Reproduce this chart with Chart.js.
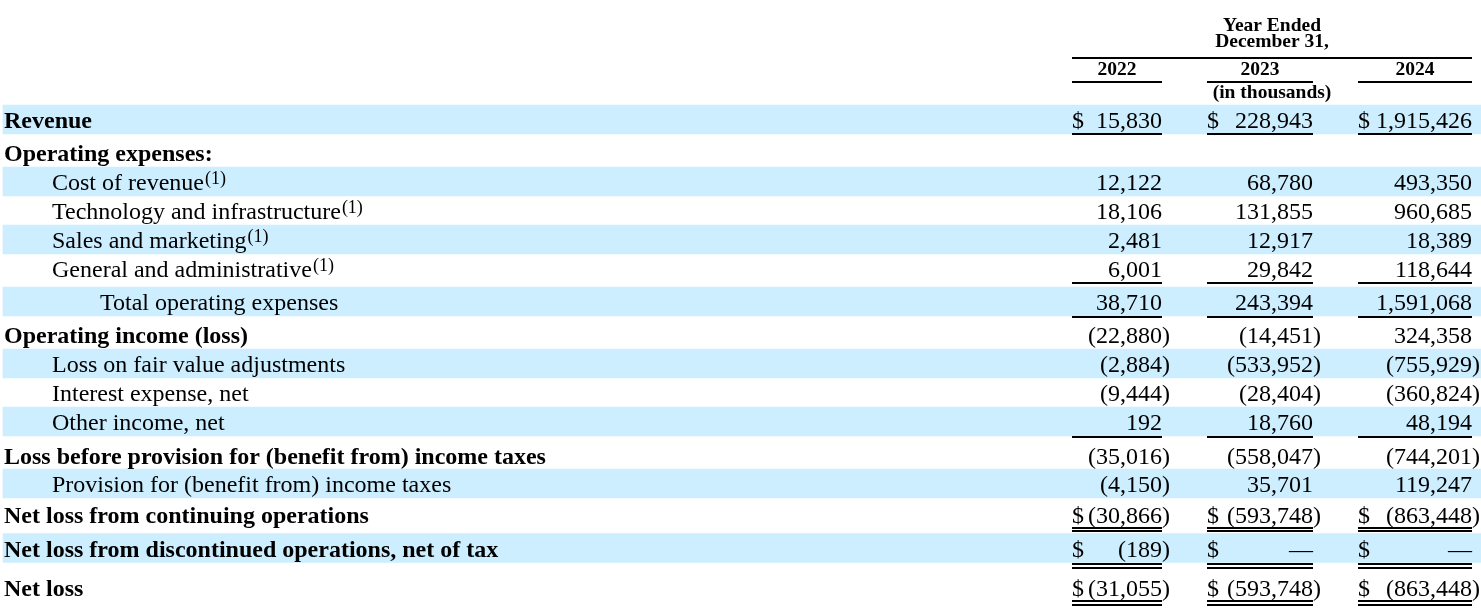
<!DOCTYPE html>
<html>
<head>
<meta charset="utf-8">
<script src="https://cdn.jsdelivr.net/npm/chart.js@4.4.1/dist/chart.umd.min.js"></script>
<style>
  html, body { margin: 0; padding: 0; background: #fff; }
  canvas { display: block; }
</style>
</head>
<body>
<canvas id="incomeTable" width="1481" height="609"></canvas>
<script>
// Table data (in thousands)
const years = ['2022', '2023', '2024'];
const rowLabels = [
    'Revenue',
    'Operating expenses:',
    'Cost of revenue',
    'Technology and infrastructure',
    'Sales and marketing',
    'General and administrative',
    'Total operating expenses',
    'Operating income (loss)',
    'Loss on fair value adjustments',
    'Interest expense, net',
    'Other income, net',
    'Loss before provision for (benefit from) income taxes',
    'Provision for (benefit from) income taxes',
    'Net loss from continuing operations',
    'Net loss from discontinued operations, net of tax',
    'Net loss'
];
const values2022 = [15830, null, 12122, 18106, 2481, 6001, 38710, -22880, -2884, -9444, 192, -35016, -4150, -30866, -189, -31055];
const values2023 = [228943, null, 68780, 131855, 12917, 29842, 243394, -14451, -533952, -28404, 18760, -558047, 35701, -593748, 0, -593748];
const values2024 = [1915426, null, 493350, 960685, 18389, 118644, 1591068, 324358, -755929, -360824, 48194, -744201, 119247, -863448, 0, -863448];
const footnoteRows = [2, 3, 4, 5];
const dollarRows = [0, 13, 14, 15];

// Layout (scale units = page pixels)
const rowCenters = [119.5, 152, 181.5, 210.5, 239.5, 268.5, 301.5, 334.5, 363.5, 392.5, 421.5, 455.5, 483.5, 514, 548, 587];
const rowIndent = [0, 0, 1, 1, 1, 1, 2, 0, 1, 1, 1, 0, 1, 0, 0, 0];
const shadedRows = [0, 2, 4, 6, 8, 10, 12, 14];
const singleRule = { 0: 14, 5: 14.5, 6: 15, 10: 15.5 };
const doubleRule = { 13: 13.5, 14: 16, 15: 14 };
const columns = [
    { left: 1072, right: 1162 },
    { left: 1207, right: 1313 },
    { left: 1358, right: 1472 }
];
const indentX = [4, 52, 100];
const serif = "'Liberation Serif', 'Times New Roman', serif";

function formatAmount(v) {
    if (v === 0) return { text: '\u2014', close: '' };
    const s = Math.abs(v).toLocaleString('en-US');
    return v < 0 ? { text: '(' + s, close: ')' } : { text: s, close: '' };
}

const tableText = {
    id: 'tableText',
    afterDatasetsDraw(chart) {
        const ctx = chart.ctx;
        const xs = chart.scales.x;
        const ys = chart.scales.y;
        const px = v => xs.getPixelForValue(v);
        const py = v => ys.getPixelForValue(v);
        const allValues = [values2022, values2023, values2024];

        const rule = (x1, x2, y) => {
            ctx.beginPath();
            ctx.moveTo(px(x1), Math.round(py(y)));
            ctx.lineTo(px(x2), Math.round(py(y)));
            ctx.stroke();
        };

        ctx.save();
        ctx.fillStyle = '#000';
        ctx.strokeStyle = '#000';
        ctx.textBaseline = 'alphabetic';
        ctx.lineWidth = 2;

        // header
        const mid = (columns[0].left + columns[2].right) / 2;
        ctx.font = 'bold 19.5px ' + serif;
        ctx.textAlign = 'center';
        ctx.fillText('Year Ended', px(mid), py(31));
        ctx.fillText('December 31,', px(mid), py(47));
        ctx.fillText('(in thousands)', px(mid), py(98));
        rule(columns[0].left, columns[2].right, 58);
        columns.forEach((c, i) => {
            ctx.fillText(years[i], px((c.left + c.right) / 2), py(75));
            rule(c.left, c.right, 81.5);
        });

        // rows
        rowLabels.forEach((label, r) => {
            const base = py(rowCenters[r] + 8.5);
            const bold = rowIndent[r] === 0;
            ctx.textAlign = 'left';
            ctx.font = (bold ? 'bold ' : '') + '24px ' + serif;
            const lx = px(indentX[rowIndent[r]]);
            ctx.fillText(label, lx, base);
            if (footnoteRows.includes(r)) {
                const w = ctx.measureText(label).width;
                ctx.font = '18px ' + serif;
                ctx.fillText('(1)', lx + w + 1, base - 6.5);
            }

            columns.forEach((c, i) => {
                const v = allValues[i][r];
                if (v === null) return;
                ctx.font = '24px ' + serif;
                if (dollarRows.includes(r)) {
                    ctx.textAlign = 'left';
                    ctx.fillText('$', px(c.left), base);
                }
                const f = formatAmount(v);
                ctx.textAlign = 'right';
                ctx.fillText(f.text, px(c.right), base);
                if (f.close) {
                    ctx.textAlign = 'left';
                    ctx.fillText(f.close, px(c.right), base);
                }

                if (singleRule[r] !== undefined) {
                    rule(c.left, c.right, rowCenters[r] + singleRule[r]);
                }
                if (doubleRule[r] !== undefined) {
                    rule(c.left, c.right, rowCenters[r] + doubleRule[r]);
                    rule(c.left, c.right, rowCenters[r] + doubleRule[r] + 3.5);
                }
            });
        });
        ctx.restore();
    }
};

const ctx = document.getElementById('incomeTable').getContext('2d');
const incomeTable = new Chart(ctx, {
    type: 'bar',
    data: {
        datasets: [{
            label: 'Row shading',
            data: shadedRows.map(r => ({ y: rowCenters[r], x: [3, 1481] })),
            backgroundColor: '#cceeff',
            borderWidth: 0,
            barThickness: 29
        }]
    },
    options: {
        indexAxis: 'y',
        responsive: false,
        animation: false,
        layout: { padding: 0 },
        plugins: {
            legend: { display: false },
            tooltip: { enabled: false }
        },
        scales: {
            x: { type: 'linear', min: 0, max: 1481, offset: false, display: false },
            y: { type: 'linear', min: 0, max: 609, reverse: true, offset: false, display: false }
        }
    },
    plugins: [tableText]
});
</script>
</body>
</html>
